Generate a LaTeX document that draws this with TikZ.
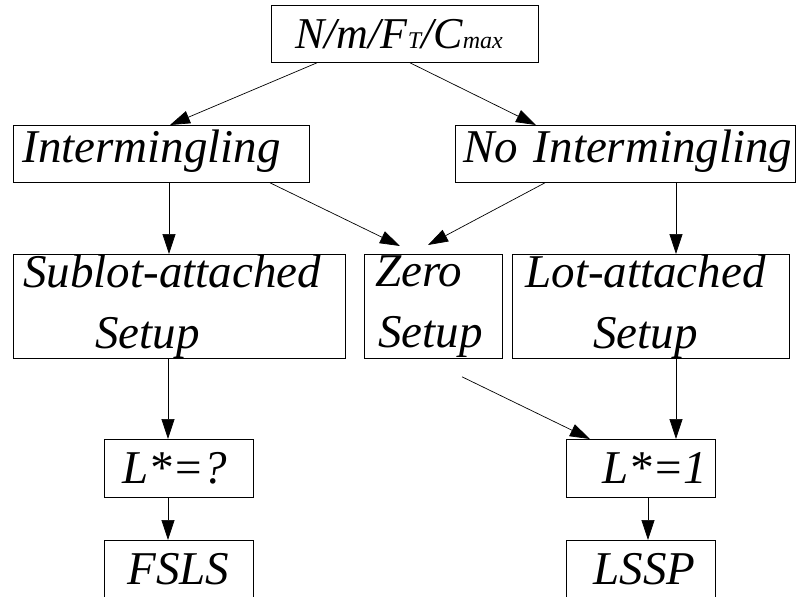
\documentclass[tikz,border=0pt]{standalone}
\usepackage{fontspec}
\setmainfont{Liberation Serif}
\usetikzlibrary{arrows.meta}
\newcommand\bigit{\fontsize{47}{61}\selectfont\itshape}
\newcommand\subit{\fontsize{24}{24}\selectfont\itshape}
\tikzset{
  box/.style={draw, line width=0.8pt, rectangle, anchor=north west,
    inner xsep=2pt, inner ysep=0pt, align=left, font=\bigit},
  wide/.style={text height=30pt, text depth=13pt},
  short/.style={text height=32pt, text depth=2pt},
  arr/.style={-{Triangle[length=20pt,width=13pt]}, line width=0.7pt},
}
\begin{document}
\begin{tikzpicture}[x=1pt,y=-1pt]
\useasboundingbox (0,0) rectangle (796,597);

% boxes
\node[box, text width=263pt, minimum height=57pt, font=\fontsize{44}{44}\selectfont\itshape]
  (top) at (271,5) {\hspace*{22pt}N/m/F{\subit T}/C{\subit max}};
\node[box, wide, text width=292pt, minimum height=57pt] (inter) at (13,125)
  {\hspace*{7pt}Intermingling};
\node[box, wide, text width=336pt, minimum height=57pt] (nointer) at (455,125)
  {\hspace*{6pt}No Intermingling};
\node[box, text width=328pt, minimum height=104pt] (sublot) at (13,254)
  {\hspace*{8pt}Sublot-attached\\\hspace*{80pt}Setup};
\node[box, text width=134pt, minimum height=104pt] (zero) at (364,254)
  {\hspace*{9pt}Zero\\\hspace*{12pt}Setup};
\node[box, text width=273pt, minimum height=104pt] (lot) at (512,254)
  {\hspace*{11pt}Lot-attached\\\hspace*{79pt}Setup};
\node[box, short, text width=145pt, minimum height=58pt] (lq) at (104,439)
  {\hspace*{16pt}L*=?};
\node[box, short, text width=145pt, minimum height=58pt] (l1) at (566,439)
  {\hspace*{34pt}L*=1};
\node[box, short, text width=145pt, minimum height=58pt] (fsls) at (104,540)
  {\hspace*{21pt}FSLS};
\node[box, short, text width=145pt, minimum height=58pt] (lssp) at (566,540)
  {\hspace*{25pt}LSSP};

% connectors
\draw[arr] ([xshift=46pt]top.south west) -- ([xshift=157pt]inter.north west);
\draw[arr] ([xshift=139pt]top.south west) -- ([xshift=81pt]nointer.north west);
\draw[arr] ([xshift=156pt]inter.south west) -- ([xshift=156pt]sublot.north west);
\draw[arr] ([xshift=257pt]inter.south west) -- ([xshift=36pt,yshift=8pt]zero.north west);
\draw[arr] ([xshift=90pt]nointer.south west) -- ([xshift=64pt,yshift=9pt]zero.north west);
\draw[arr] ([xshift=221pt]nointer.south west) -- ([xshift=164pt]lot.north west);
\draw[arr] ([xshift=155pt]sublot.south west) -- ([xshift=64pt]lq.north west);
\draw[arr] ([xshift=164pt]lot.south west) -- ([xshift=110pt]l1.north west);
\draw[arr] ([xshift=98pt,yshift=-18pt]zero.south west) -- ([xshift=24pt]l1.north west);
\draw[arr] ([xshift=64pt]lq.south west) -- ([xshift=64pt]fsls.north west);
\draw[arr] ([xshift=82pt]l1.south west) -- ([xshift=82pt]lssp.north west);
\end{tikzpicture}
\end{document}
